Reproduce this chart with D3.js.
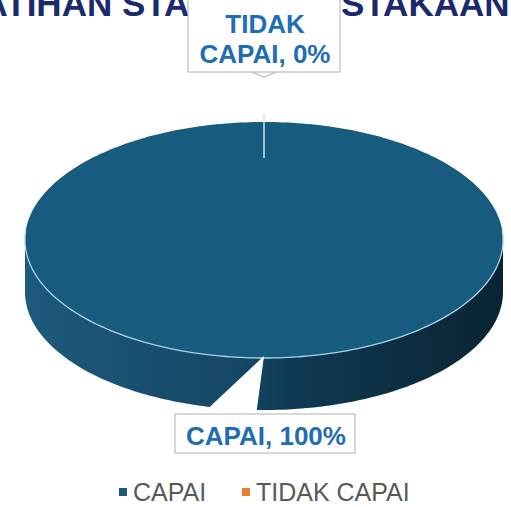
<!DOCTYPE html>
<html><head><meta charset="utf-8">
<script src="https://cdn.jsdelivr.net/npm/d3@7"></script>
<style>html,body{margin:0;padding:0;background:#fff;}svg{display:block;font-family:"Liberation Sans",Arial,sans-serif;}</style>
</head><body>
<script>
const title = "PELATIHAN STAF PERPUSTAKAAN";
const categories = ["CAPAI", "TIDAK CAPAI"];
const values = [100, 0];
const labelLines = [["CAPAI, 100%"], ["TIDAK", "CAPAI, 0%"]];
const colors = ["#175b7f", "#ed7d31"];

const W = 511, H = 507;
const svg = d3.select("body").append("svg").attr("width", W).attr("height", H);
const defs = svg.append("defs");
const grad = defs.append("linearGradient").attr("id", "side").attr("x1", "0").attr("x2", "1").attr("y1", "0").attr("y2", "0");
grad.append("stop").attr("offset", "0").attr("stop-color", "#1d5a7c");
grad.append("stop").attr("offset", "0.45").attr("stop-color", "#144764");
grad.append("stop").attr("offset", "0.55").attr("stop-color", "#0f3a54");
grad.append("stop").attr("offset", "1").attr("stop-color", "#0a2433");

// title (cut off at the top)
svg.append("text").attr("x", 212).attr("y", 16).attr("text-anchor", "middle")
  .attr("font-size", 35).attr("font-weight", "bold").attr("fill", "#1a2a6c").text(title);

const cx = 264, cy = 240, rx = 239, ry = 118, depth = 52;
const pie = d3.pie().sort(null).value(d => d)(values);
const px = a => cx + rx * Math.sin(a);
const py = a => cy - ry * Math.cos(a);

function arcPts(a0, a1, dy) {
  const n = Math.max(2, Math.ceil(Math.abs(a1 - a0) / 0.02));
  return d3.range(n + 1).map(i => { const a = a0 + (a1 - a0) * i / n; return [px(a), py(a) + dy]; });
}

const g = svg.append("g");
// sides
pie.forEach((d, i) => {
  if (d.endAngle - d.startAngle <= 0) return;
  const s = Math.max(d.startAngle, Math.PI / 2), e = Math.min(d.endAngle, 3 * Math.PI / 2);
  if (e <= s) return;
  const top = arcPts(s, e, 0), bot = arcPts(e, s, depth);
  g.append("path").attr("d", d3.line()(top.concat(bot)) + "Z")
    .attr("fill", i === 0 ? "url(#side)" : colors[i]);
});
// tops
pie.forEach((d, i) => {
  if (d.endAngle - d.startAngle <= 0) return;
  const pts = arcPts(d.startAngle, d.endAngle, 0);
  const full = d.endAngle - d.startAngle >= 2 * Math.PI - 1e-6;
  const path = full ? d3.line()(pts) + "Z" : d3.line()([[cx, cy]].concat(pts)) + "Z";
  g.append("path").attr("d", path).attr("fill", colors[i]);
});
// light rim on front edge
g.append("path").attr("d", d3.line()(arcPts(Math.PI / 2 - 0.08, 3 * Math.PI / 2 + 0.08, 0)))
  .attr("fill", "none").attr("stroke", "#a9d3ea").attr("stroke-width", 1.3);
// zero slice boundary line at the top
const zeroA = pie[1].startAngle;
g.append("line").attr("x1", px(zeroA)).attr("y1", py(zeroA) - 8).attr("x2", px(zeroA)).attr("y2", py(zeroA) + 36)
  .attr("stroke", "#cfe6f3").attr("stroke-width", 1.5);

// callout for CAPAI (bottom)
const midA = (pie[0].startAngle + pie[0].endAngle) / 2;
g.append("path").attr("d", d3.line()([[px(midA), py(midA) - 2], [200, 416], [256, 416]]) + "Z").attr("fill", "#fff");
const b1 = {x: 175, y: 414, w: 180, h: 39};
svg.append("rect").attr("x", b1.x).attr("y", b1.y).attr("width", b1.w).attr("height", b1.h)
  .attr("fill", "#fff").attr("stroke", "#b0b0b0").attr("stroke-width", 1);
svg.append("text").attr("x", b1.x + b1.w / 2 + 1).attr("y", 445).attr("text-anchor", "middle")
  .attr("font-size", 26).attr("font-weight", "bold").attr("fill", "#1f6db3").text(labelLines[0][0]);

// callout for TIDAK CAPAI (top)
const b2 = {x: 188, y: -2, w: 152, h: 74};
svg.append("path").attr("d", d3.line()([[252, b2.y + b2.h], [264, b2.y + b2.h + 5], [276, b2.y + b2.h]]))
  .attr("fill", "#fff").attr("stroke", "#b0b0b0");
svg.append("rect").attr("x", b2.x).attr("y", b2.y).attr("width", b2.w).attr("height", b2.h)
  .attr("fill", "#fff").attr("stroke", "#b0b0b0").attr("stroke-width", 1);
labelLines[1].forEach((t, j) => {
  svg.append("text").attr("x", b2.x + b2.w / 2 + 1).attr("y", 33 + j * 30).attr("text-anchor", "middle")
    .attr("font-size", 26).attr("font-weight", "bold").attr("fill", "#1f6db3").text(t);
});

// legend
const legX = [119, 242];
categories.forEach((c, i) => {
  const lg = svg.append("g").attr("transform", `translate(${legX[i]},0)`);
  lg.append("rect").attr("x", 0).attr("y", 488).attr("width", 8).attr("height", 8).attr("fill", i === 0 ? "#1d5a78" : colors[i]);
  lg.append("text").attr("x", 14).attr("y", 501).attr("font-size", 25).attr("fill", "#595959").text(c);
});
</script>
</body></html>
